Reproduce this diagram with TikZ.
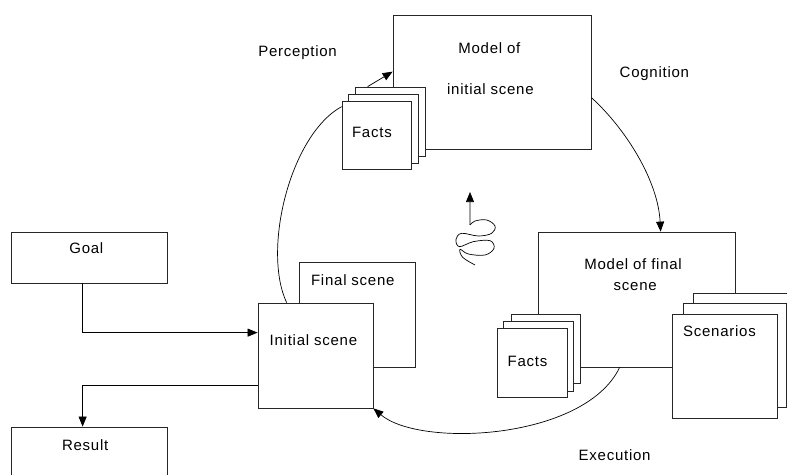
\documentclass[tikz,border=0pt]{standalone}
\usepackage{fontspec}
\setmainfont{Liberation Sans}[LetterSpace=5]
\usetikzlibrary{arrows.meta,calc}
\begin{document}
\begin{tikzpicture}[x=1pt,y=-1pt,
  line width=0.75pt,
  box/.style={draw=black!85,fill=white,inner sep=0pt},
  lbl/.style={anchor=base west,inner sep=0pt,font=\fontsize{15}{18}\selectfont},
  arr/.style={-{Triangle[length=10pt,width=8pt]}},
  link/.style={line width=0.7pt}]
\clip (0,0) rectangle (787,474);
\fill[white] (0,0) rectangle (787,474);

% corner points of each box: \boxat{name}{x1}{y1}{x2}{y2}
\newcommand{\boxat}[5]{%
  \node[box,minimum width={#4-#2},minimum height={#5-#3}] (#1) at ({(#2+#4)/2},{(#3+#5)/2}) {};}

% model of the initial scene with its stack of facts
\boxat{mi}{393}{15}{591}{149}
\boxat{fa3}{355}{87}{425}{156}
\boxat{fa2}{348}{94}{418}{163}
\boxat{fa1}{342}{101}{411}{169}

% scenes
\boxat{fs}{299}{262}{415}{367}
\boxat{is}{258}{303}{373}{408}

% model of the final scene with facts and scenarios
\boxat{mf}{538}{232}{735}{367}
\boxat{fb3}{511}{314}{580}{383}
\boxat{fb2}{503}{321}{573}{391}
\boxat{fb1}{497}{328}{567}{397}
\boxat{sc3}{693}{293}{800}{397}
\boxat{sc2}{683}{303}{786.5}{407}
\boxat{sc1}{672}{314}{777}{418}

% goal and result
\boxat{goal}{11}{232}{167}{283}
\boxat{res}{11}{427}{167}{495}

% the cycle
\draw[link] ($(fa1.north west)+(0,6)$) .. controls (290,135) and (262,250) .. ($(is.north west)+(29,0)$);
\draw[link,arr] ($(mi.north east)+(0,83)$) .. controls (625,128) and (658,180) .. ($(mf.north west)+(123,0)$);
\draw[link,arr] ($(mf.south west)+(82,0)$) .. controls (585,440) and (420,448) .. (is.south east);
\draw[link,arr] ($(fa3.north west)+(13,0)$) -- ($(mi.north west)+(0,57)$);

% goal in, result out
\draw[link,arr] ($(goal.south west)+(72,0)$) |- ($(is.north west)+(0,30)$);
\draw[link,arr] ($(is.north west)+(0,83)$) -| ($(res.north west)+(72,0)$);

% coil with upward arrow
\coordinate (coiltop) at (470,192);
\begin{scope}[shift={(420,150)},x=0.3333pt,y=-0.3333pt]
  \draw[link] plot[smooth,tension=0.6] coordinates {(150,225) (165,213) (200,210) (225,228) (215,250) (175,258) (125,250) (108,268) (118,290) (160,275) (210,272) (222,295) (195,315) (145,312) (120,298) (128,322) (165,345)};
  \coordinate (coilbase) at (150,225);
\end{scope}
\draw[link,arr] (coilbase) -- (coiltop);

% labels
\node[lbl] (tmi1) at (458,53.3) {Model of};
\node[lbl] (tmi2) at (446.7,94.3) {initial scene};
\node[lbl] (tfa) at (351.7,137.7) {Facts};
\node[lbl] (tper) at (258,56.7) {Perception};
\node[lbl] (tcog) at (619.3,77.8) {Cognition};
\node[lbl] (tmf1) at (584,269.3) {Model of final};
\node[lbl] (tmf2) at (613.3,290) {scene};
\node[lbl] (tfb) at (507.3,366) {Facts};
\node[lbl] (tsc) at (682.7,336) {Scenarios};
\node[lbl] (texe) at (578.3,460) {Execution};
\node[lbl] (tis) at (269.3,345) {Initial scene};
\node[lbl] (tfs) at (310.7,285) {Final scene};
\node[lbl] (tgoal) at (69,253) {Goal};
\node[lbl] (tres) at (61.7,450) {Result};
\end{tikzpicture}
\end{document}
